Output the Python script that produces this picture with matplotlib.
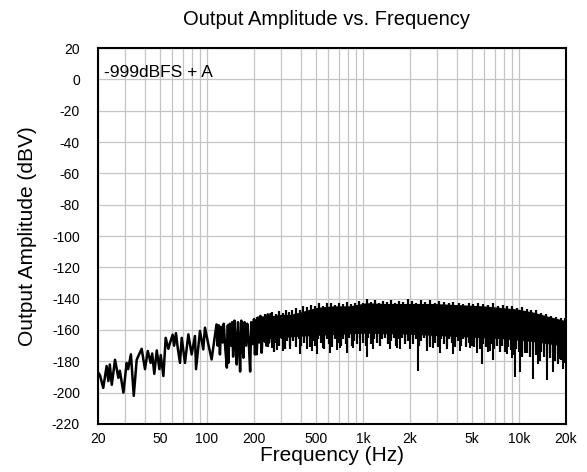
import numpy as np
import matplotlib
matplotlib.use("Agg")
import matplotlib.pyplot as plt
from matplotlib.ticker import FixedLocator, NullFormatter

plt.rcParams['font.family'] = ['Liberation Sans', 'DejaVu Sans']
plt.rcParams['axes.unicode_minus'] = False

# Low-frequency part of the trace, individual swings (Hz, dBV)
lf_freq = [20.0, 20.6, 21.6, 22.7, 23.3, 23.8, 24.5, 25.7, 27.0, 27.6, 29.1, 30.5,
           31.2, 32.5, 33.9, 35.4, 36.5, 38.1, 40.0, 41.7, 43.5, 44.5, 45.9, 47.6,
           49.5, 50.5, 52.5, 54.3, 56.5, 58.0, 60.2, 61.5, 63.2, 65.0, 67.1, 68.8,
           72.2, 75.9, 79.7, 83.7, 85.0, 90.1, 94.6, 97.0, 101.9, 107.0, 115.0,
           117, 119, 121, 123, 126, 128, 131, 134, 136, 137, 140, 143, 145, 147,
           150, 153, 155, 158, 161, 163, 166, 169, 171, 174, 178, 181, 185, 189,
           192, 196, 200, 203, 206, 208, 212, 216, 220, 224, 228, 232, 236, 240,
           245, 250, 255]
lf_amp = [-187, -189, -197, -183, -192.6, -182, -195, -179, -190.5, -186, -200, -181,
          -185, -175.5, -202, -179, -176, -172, -185, -173.4, -181, -175, -188, -173,
          -185, -176, -189.4, -165, -172, -168, -163, -170, -162, -172, -181, -165,
          -181, -162.8, -175.6, -163.8, -185, -160.6, -172.4, -158.5, -169, -178.8, -156.4,
          -170, -157, -175.6, -158, -168, -156, -172, -184, -157, -181, -156, -170,
          -155, -177, -154, -169, -182, -155, -172, -186.5, -154, -168, -177.7, -155,
          -170, -156, -167, -186.5, -155, -169, -153, -175.6, -154, -175.5, -152,
          -168, -151, -174.5, -152, -167, -151, -170, -150, -168, -150]

# Solid core of the dense noise band
band_freq = [200, 253, 294, 340, 394, 505, 645, 825, 1056, 1349, 1725, 2208, 2820,
             3610, 4620, 5900, 7550, 9660, 12340, 15780, 20000]
band_top = [-155, -151.5, -150.5, -150.5, -149, -146, -145, -145, -143, -143.5,
            -143.5, -143.5, -143.5, -144, -144.5, -145, -146, -147, -149, -152, -154.5]
band_bot = [-164, -165, -164.5, -164, -163.5, -163, -162.5, -162, -161.5, -162,
            -162, -162.5, -163, -163.5, -164, -164.5, -165, -166, -167, -168.5, -170]

# Upward ticks on the top edge of the band
top_freq = [210, 222, 235, 247, 262, 275, 288, 305, 320, 335, 352, 372, 392, 415, 440,
            465, 490, 520, 555, 590, 625, 660, 700, 745, 790, 840, 890, 945, 1000,
            1060, 1120, 1190, 1260, 1340, 1420, 1510, 1600, 1700, 1800, 1950, 2050,
            2200, 2350, 2500, 2680, 2880, 3080, 3300, 3550, 3800, 4100, 4400, 4750,
            5100, 5500, 5900, 6350, 6800, 7300, 7850, 8400, 9000, 9700, 10400, 11200,
            12000, 12900, 13900, 15000, 16100, 17300, 18600, 19800]
top_amp = [-152, -151, -149.5, -151, -148.5, -149.5, -148, -149, -147, -148.5,
           -147.5, -146, -147, -145, -145.5, -144, -145, -143, -144.5, -143,
           -142.5, -144, -142.5, -143.5, -142, -143.5, -142.5, -141.5, -142.5, -140.5,
           -142, -141, -142.5, -141.5, -142, -141, -142.5, -141.5, -142, -140,
           -141.5, -142.5, -141, -142, -141, -142.5, -141.5, -142, -143, -142,
           -142.5, -143.5, -142.5, -143.5, -142.5, -143.5, -144, -143, -144.5, -144,
           -145, -144.5, -146, -145.5, -146.5, -147, -147.5, -149, -149.5, -151,
           -151.5, -152.5, -152.5]

# Short downward hairs under the band
hair_freq = [200, 208, 217, 226, 236, 246, 256, 267, 278, 290, 302, 315, 328, 342,
             356, 371, 387, 403, 420, 438, 456, 475, 495, 516, 538, 560, 584, 609, 634,
             661, 689, 718, 748, 779, 812, 846, 882, 919, 958, 998, 1040,
             1084, 1129, 1177, 1226, 1278, 1332, 1388, 1446, 1507, 1570, 1636, 1705,
             1777, 1852, 1930, 2011,
             2095, 2183, 2275, 2371, 2471, 2575, 2683, 2796, 2913, 3036, 3163, 3296,
             3435, 3580, 3730, 3887, 4050, 4221, 4398, 4583, 4776, 4977,
             5186, 5404, 5632, 5868, 6115, 6372, 6640, 6920, 7211, 7514, 7830, 8160,
             8503, 8860, 9233, 9622, 10026, 10448, 10888, 11346, 11823, 12320, 12839,
             13379, 13942, 14528, 15140, 15777, 16440, 17132, 17853, 18604, 19387, 20000]
hair_amp = [-169, -173, -167, -172, -168, -171, -166, -174, -168, -170, -166, -172, -167, -170,
            -167, -171, -166, -170, -168, -166, -171, -167, -170, -166, -168, -172, -166,
            -169, -171, -166, -168, -170, -166, -169, -165, -170, -167, -169, -165, -168, -170,
            -165, -169, -166, -168, -170, -166, -165, -169, -167, -165, -170, -166, -165,
            -169, -167, -166,
            -169, -166, -170, -167, -165, -169, -171, -166, -168, -171, -166, -169, -170,
            -166, -168, -171, -167, -170, -166, -171, -168, -170,
            -171, -168, -172, -169, -171, -174, -169, -172, -170, -174, -170, -174, -171,
            -173, -176, -172, -174, -177, -172, -175, -177, -173, -176, -178, -174, -177,
            -179, -175, -178, -180, -176, -179, -181, -177]

# Long downward spikes (Hz, dBV)
spike_freq = [203, 208, 224, 260, 280, 308, 340, 394, 436, 469, 505, 556, 614, 678, 711,
              786, 867, 955, 1056, 1164, 1285, 1490, 1644, 1725, 2000, 2260, 2560, 2820,
              3115, 3440, 3775, 4180, 4850, 5350, 5760, 6510, 6810, 7550, 8340, 8970,
              9420, 10140, 10920, 12270, 13230, 13620, 15040, 15780, 16520, 17850, 18320,
              19140, 19720]
spike_amp = [-175.6, -175.5, -174.5, -171.3, -173, -173.4, -172.4, -175.5, -172.4, -173.4,
             -175.5, -171.3, -174.5, -173, -171.3, -174.5, -171.3, -173.4, -177, -172.4,
             -170.2, -172.4, -171.3, -172, -172.4, -186, -173.4, -171.3, -174.5, -172.4,
             -175.5, -173.4, -171.3, -174.5, -182, -173.4, -179, -172.4, -175.6, -177.7,
             -190, -187, -174.5, -191.5, -182, -179.8, -192, -177.7, -187, -182, -178.8,
             -185, -175.6]

xticks = [20, 50, 100, 200, 500, 1000, 2000, 5000, 10000, 20000]
xticklabels = ['20', '50', '100', '200', '500', '1k', '2k', '5k', '10k', '20k']
yticks = list(range(-220, 21, 20))

fig = plt.figure(figsize=(5.87, 4.72), dpi=100)
ax = fig.add_axes([0.167, 0.1017, 0.797, 0.7966])

ax.set_xscale('log')
ax.set_xlim(20, 20000)
ax.set_ylim(-220, 20)

minor = [m * d for d in (10, 100, 1000, 10000) for m in range(1, 10) if 20 <= m * d <= 20000]
ax.xaxis.set_major_locator(FixedLocator(xticks))
ax.xaxis.set_minor_locator(FixedLocator(minor))
ax.xaxis.set_minor_formatter(NullFormatter())
ax.set_xticklabels(xticklabels)
ax.set_yticks(yticks)

ax.grid(True, which='both', axis='x', color='#c4c4c4', lw=0.9)
ax.grid(True, which='major', axis='y', color='#c4c4c4', lw=0.9)
ax.set_axisbelow(True)

ax.fill_between(band_freq, band_bot, band_top, color='black', lw=1.0, edgecolor='black')
ax.vlines(top_freq, -156, top_amp, color='black', lw=1.6)
ax.vlines(hair_freq, hair_amp, -160, color='black', lw=1.6)
ax.vlines(spike_freq, spike_amp, -160, color='black', lw=1.5)
ax.plot(lf_freq, lf_amp, color='black', lw=1.8)

ax.tick_params(axis='both', which='both', length=0, labelsize=10)
ax.tick_params(axis='y', pad=13)
ax.tick_params(axis='x', pad=6)
for s in ax.spines.values():
    s.set_linewidth(1.5)
    s.set_color('black')

ax.text(0.012, 0.955, '-999dBFS + A', transform=ax.transAxes, fontsize=12.5,
        ha='left', va='top')
ax.set_xlabel('Frequency (Hz)', fontsize=15, labelpad=0)
ax.set_ylabel('Output Amplitude (dBV)', fontsize=15, labelpad=11)
fig.text(0.557, 0.958, 'Output Amplitude vs. Frequency', fontsize=14.5,
         ha='center', va='center')

fig.savefig('out.png', dpi=100)
